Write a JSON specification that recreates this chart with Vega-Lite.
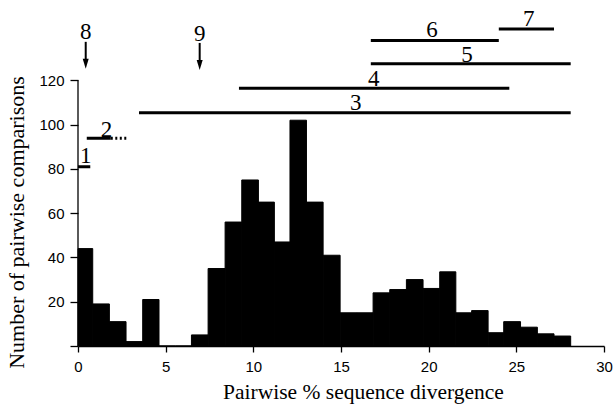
{
  "$schema": "https://vega.github.io/schema/vega-lite/v6.json",
  "width": 526,
  "height": 346,
  "autosize": {"type": "none"},
  "padding": {"left": 78, "top": 0, "right": 10, "bottom": 60},
  "background": "white",
  "config": {"view": {"stroke": null}, "axis": {"grid": false}},
  "datasets": {
    "bins": [
      {"start": 0, "end": 0.84, "count": 44},
      {"start": 0.84, "end": 1.79, "count": 19},
      {"start": 1.79, "end": 2.74, "count": 11},
      {"start": 2.74, "end": 3.69, "count": 2},
      {"start": 3.69, "end": 4.62, "count": 21},
      {"start": 4.62, "end": 5.55, "count": 0},
      {"start": 5.55, "end": 6.47, "count": 0},
      {"start": 6.47, "end": 7.42, "count": 5},
      {"start": 7.42, "end": 8.39, "count": 35},
      {"start": 8.39, "end": 9.34, "count": 56},
      {"start": 9.34, "end": 10.29, "count": 75},
      {"start": 10.29, "end": 11.2, "count": 65},
      {"start": 11.2, "end": 12.09, "count": 47},
      {"start": 12.09, "end": 13.03, "count": 102},
      {"start": 13.03, "end": 13.98, "count": 65},
      {"start": 13.98, "end": 14.95, "count": 41},
      {"start": 14.95, "end": 15.89, "count": 15},
      {"start": 15.89, "end": 16.83, "count": 15},
      {"start": 16.83, "end": 17.78, "count": 24},
      {"start": 17.78, "end": 18.73, "count": 25.5},
      {"start": 18.73, "end": 19.68, "count": 30},
      {"start": 19.68, "end": 20.63, "count": 26},
      {"start": 20.63, "end": 21.55, "count": 33.5},
      {"start": 21.55, "end": 22.45, "count": 15},
      {"start": 22.45, "end": 23.39, "count": 16},
      {"start": 23.39, "end": 24.28, "count": 6},
      {"start": 24.28, "end": 25.24, "count": 11},
      {"start": 25.24, "end": 26.2, "count": 8.5},
      {"start": 26.2, "end": 27.15, "count": 5.5},
      {"start": 27.15, "end": 28.1, "count": 4.5}
    ],
    "segments": [
      {"id": "1", "from": 0, "to": 0.7, "level": 81, "style": "solid"},
      {"id": "2", "from": 0.5, "to": 1.87, "level": 93.8, "style": "solid"},
      {"id": "2", "from": 1.87, "to": 2.78, "level": 93.8, "style": "dotted"},
      {"id": "3", "from": 3.48, "to": 28.1, "level": 105.4, "style": "solid"},
      {"id": "4", "from": 9.18, "to": 24.6, "level": 116.4, "style": "solid"},
      {"id": "5", "from": 16.7, "to": 28.1, "level": 127.5, "style": "solid"},
      {"id": "6", "from": 16.7, "to": 24.0, "level": 138, "style": "solid"},
      {"id": "7", "from": 24.0, "to": 27.15, "level": 143.2, "style": "solid"}
    ],
    "labels": [
      {"text": "1", "x": 0.44, "y": 82.7},
      {"text": "2", "x": 1.62, "y": 94.4},
      {"text": "3", "x": 15.84, "y": 106.6},
      {"text": "4", "x": 16.87, "y": 117.5},
      {"text": "5", "x": 22.19, "y": 128.4},
      {"text": "6", "x": 20.19, "y": 139.7},
      {"text": "7", "x": 25.71, "y": 144.5},
      {"text": "8", "x": 0.44, "y": 138.5},
      {"text": "9", "x": 6.94, "y": 137.9}
    ],
    "arrows": [
      {"id": "8", "x": 0.44, "top": 137.4, "bottom": 128.5, "tip": 125.2},
      {"id": "9", "x": 6.94, "top": 136.9, "bottom": 128, "tip": 124.7}
    ],
    "yaxisline": [{"x": 0, "y": 0, "y2": 120}]
  },
  "layer": [
    {
      "data": {"name": "bins"},
      "mark": {"type": "rect", "color": "black", "stroke": "black", "strokeWidth": 1},
      "encoding": {
        "x": {
          "field": "start", "type": "quantitative",
          "scale": {"domain": [0, 30], "nice": false, "zero": false},
          "axis": {
            "values": [0, 2.5, 5, 7.5, 10, 12.5, 15, 17.5, 20, 22.5, 25, 27.5, 30],
            "labelExpr": "datum.value % 5 === 0 ? datum.label : ''",
            "labelOverlap": false,
            "labelFlush": false,
            "tickSize": {"condition": {"test": "datum.value % 5 === 0", "value": 6}, "value": -4},
            "tickWidth": 1.3,
            "tickColor": "black",
            "domainColor": "black",
            "domainWidth": 1.3,
            "labelFont": "Liberation Sans",
            "labelFontSize": 15,
            "labelColor": "black",
            "labelPadding": 7,
            "title": "Pairwise % sequence divergence",
            "titleFont": "Liberation Serif",
            "titleFontSize": 21.5,
            "titleFontWeight": "normal",
            "titleColor": "black",
            "titleX": 285,
            "titleY": 52,
            "titleBaseline": "alphabetic",
            "titleAlign": "center"
          }
        },
        "x2": {"field": "end"},
        "y": {
          "field": "count", "type": "quantitative",
          "scale": {"domain": [0, 156.3], "nice": false},
          "axis": {
            "values": [0, 10, 20, 30, 40, 50, 60, 70, 80, 90, 100, 110, 120],
            "labelExpr": "datum.value % 20 === 0 && datum.value > 0 ? datum.label : ''",
            "labelOverlap": false,
            "labelFlush": false,
            "domain": false,
            "tickSize": {"condition": {"test": "datum.value % 20 === 0", "value": 8}, "value": 5},
            "tickWidth": 1.3,
            "tickColor": "black",
            "labelFont": "Liberation Sans",
            "labelFontSize": 15,
            "labelColor": "black",
            "labelPadding": 6,
            "title": "Number of pairwise comparisons",
            "titleFont": "Liberation Serif",
            "titleFontSize": 22,
            "titleFontWeight": "normal",
            "titleColor": "black",
            "titleX": -55,
            "titleY": 222,
            "titleAlign": "center",
            "titleBaseline": "alphabetic",
            "titleAngle": -90
          }
        },
        "y2": {"datum": 0}
      }
    },
    {
      "data": {"name": "yaxisline"},
      "mark": {"type": "rule", "color": "black", "strokeWidth": 1.3},
      "encoding": {
        "x": {"field": "x", "type": "quantitative"},
        "y": {"field": "y", "type": "quantitative"},
        "y2": {"field": "y2"}
      }
    },
    {
      "data": {"name": "segments"},
      "mark": {"type": "rule", "color": "black", "strokeWidth": 3},
      "encoding": {
        "x": {"field": "from", "type": "quantitative"},
        "x2": {"field": "to"},
        "y": {"field": "level", "type": "quantitative"},
        "strokeDash": {
          "field": "style", "type": "nominal",
          "scale": {"domain": ["solid", "dotted"], "range": [[1, 0], [2, 2.5]]},
          "legend": null
        }
      }
    },
    {
      "data": {"name": "arrows"},
      "mark": {"type": "rule", "color": "black", "strokeWidth": 2},
      "encoding": {
        "x": {"field": "x", "type": "quantitative"},
        "y": {"field": "top", "type": "quantitative"},
        "y2": {"field": "bottom"}
      }
    },
    {
      "data": {"name": "arrows"},
      "mark": {"type": "point", "filled": true, "color": "black", "opacity": 1, "strokeWidth": 0, "size": 100, "shape": "M-0.6,-2 L0.6,-2 L0,0 Z"},
      "encoding": {
        "x": {"field": "x", "type": "quantitative"},
        "y": {"field": "tip", "type": "quantitative"}
      }
    },
    {
      "data": {"name": "labels"},
      "mark": {"type": "text", "font": "Liberation Serif", "fontSize": 23, "color": "black", "align": "center", "baseline": "alphabetic"},
      "encoding": {
        "x": {"field": "x", "type": "quantitative"},
        "y": {"field": "y", "type": "quantitative"},
        "text": {"field": "text"}
      }
    }
  ]
}
